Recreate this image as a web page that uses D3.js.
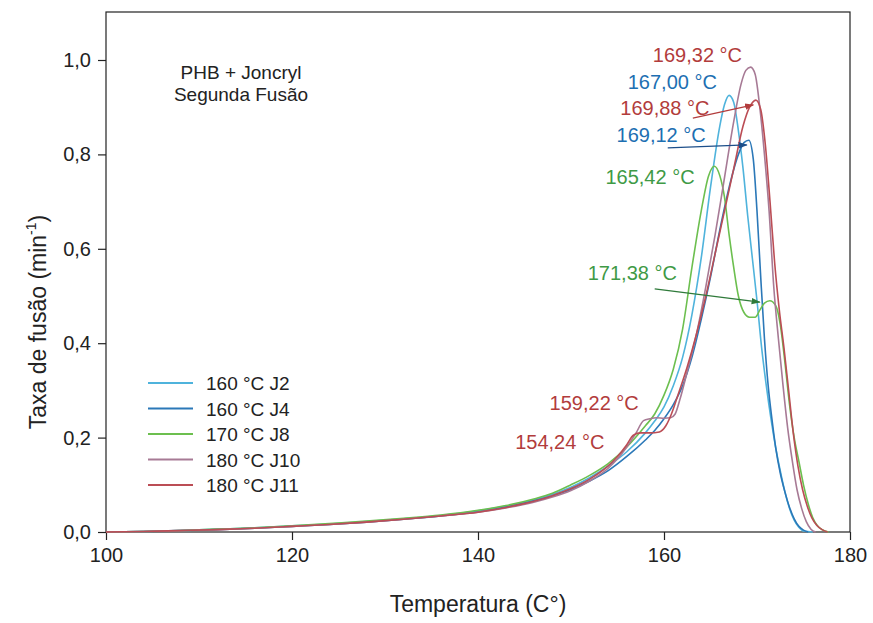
<!DOCTYPE html>
<html><head><meta charset="utf-8">
<script src="https://cdn.jsdelivr.net/npm/d3@7"></script>
<style>body{margin:0;background:#fff}svg{display:block}text{font-family:"Liberation Sans",Arial,sans-serif}</style>
</head><body>
<svg id="c" width="873" height="623"></svg>
<script>
// ---- data ----
const legendLabels = ["160 °C J2","160 °C J4","170 °C J8","180 °C J10","180 °C J11"];
const xTicks = [100,120,140,160,180];
const yTicks = [0,0.2,0.4,0.6,0.8,1.0];

const j2T = [100,104,108,112,116,120,124,128,132,136,140,143,146,148,150,152,154,156,158,159,160,161,162,163,164,165,166,166.5,167,167.5,168,168.5,169,169.5,170,170.5,171,171.5,172,172.5,173,173.5,174,174.5,175,176];
const j2V = [0,0.001,0.003,0.006,0.009,0.013,0.017,0.022,0.028,0.035,0.045,0.055,0.068,0.08,0.095,0.115,0.14,0.17,0.21,0.235,0.265,0.31,0.37,0.46,0.58,0.73,0.86,0.905,0.925,0.91,0.85,0.77,0.67,0.58,0.49,0.39,0.31,0.24,0.18,0.13,0.085,0.05,0.025,0.01,0.002,0];

const j4T = [100,104,108,112,116,120,124,128,132,136,140,143,146,148,150,152,154,156,158,159,160,161,162,163,164,165,166,167,168,168.6,169.12,169.6,170,170.4,170.8,171.2,171.6,172,172.5,173,173.5,174,174.5,175,175.5];
const j4V = [0,0.001,0.003,0.005,0.008,0.012,0.016,0.021,0.027,0.034,0.043,0.053,0.066,0.077,0.09,0.108,0.13,0.16,0.195,0.215,0.24,0.27,0.31,0.37,0.45,0.54,0.64,0.73,0.8,0.825,0.83,0.79,0.68,0.54,0.41,0.31,0.24,0.18,0.125,0.085,0.052,0.028,0.012,0.004,0];

const j8T = [100,104,108,112,116,120,124,128,132,136,140,143,146,148,150,152,154,156,158,159,160,161,162,163,164,164.8,165.42,166,166.5,167,167.5,168,168.6,169.2,169.8,170.3,170.8,171.38,172,172.5,173,173.5,174,174.5,175,175.5,176,176.5,177,177.7];
const j8V = [0,0.001,0.003,0.006,0.009,0.013,0.018,0.023,0.029,0.036,0.046,0.056,0.07,0.082,0.1,0.12,0.145,0.18,0.225,0.25,0.29,0.345,0.43,0.56,0.68,0.755,0.775,0.755,0.71,0.63,0.56,0.5,0.465,0.455,0.455,0.47,0.485,0.49,0.48,0.44,0.36,0.27,0.2,0.15,0.1,0.06,0.03,0.013,0.005,0];

const j10T = [100,104,108,112,116,120,124,128,132,136,140,143,146,148,150,152,154,155,156,157,157.8,158.5,159.22,160,160.7,161.2,161.7,162.5,163.5,164.5,165.5,166.5,167.5,168.3,168.8,169.32,169.8,170.3,170.8,171.3,171.8,172.3,172.8,173.3,173.8,174.3,174.8,175.3,175.8,176.3];
const j10V = [0,0.001,0.003,0.005,0.008,0.012,0.016,0.021,0.027,0.034,0.042,0.051,0.063,0.074,0.088,0.108,0.135,0.155,0.18,0.21,0.236,0.24,0.242,0.241,0.242,0.25,0.28,0.34,0.42,0.52,0.63,0.75,0.87,0.95,0.978,0.985,0.97,0.9,0.8,0.68,0.52,0.41,0.31,0.22,0.15,0.09,0.05,0.022,0.006,0];

const j11T = [100,104,108,112,116,120,124,128,132,136,140,143,146,148,150,152,154,155,156,156.7,157.5,158.5,159.5,160.2,160.8,161.5,162.5,163.5,164.5,165.5,166.5,167.5,168.5,169.2,169.88,170.4,170.9,171.4,171.9,172.4,172.9,173.4,173.9,174.4,174.9,175.4,175.9,176.4,177,177.6];
const j11V = [0,0.001,0.003,0.005,0.008,0.012,0.016,0.021,0.027,0.034,0.042,0.052,0.065,0.077,0.092,0.112,0.14,0.16,0.185,0.205,0.21,0.21,0.212,0.225,0.25,0.29,0.35,0.42,0.5,0.59,0.68,0.77,0.86,0.9,0.915,0.895,0.82,0.7,0.57,0.47,0.39,0.3,0.21,0.14,0.09,0.055,0.03,0.015,0.005,0];

const seriesT = [j2T,j4T,j8T,j10T,j11T];
const seriesV = [j2V,j4V,j8V,j10V,j11V];
const colors = ["#4fb3dc","#2b78b8","#6cbf4f","#a77a95","#bb4d55"];

const annLabels = ["169,32 °C","167,00 °C","169,88 °C","169,12 °C","165,42 °C","171,38 °C","159,22 °C","154,24 °C"];
// label anchor (temperature, rate) for text start / baseline
const annT = [158.8,156.1,155.3,154.9,153.7,151.8,147.7,144.0];
const annV = [0.996,0.939,0.883,0.826,0.737,0.534,0.258,0.176];
const annColors = ["#b23c3c","#1d6fb2","#b23c3c","#1d6fb2","#3f9a46","#3f9a46","#b23c3c","#b23c3c"];
// arrows: [fromT, fromV, toT, toV]
const arrows = [[163.1,0.877,169.6,0.905],[160.4,0.814,168.9,0.82],[159.0,0.515,170.3,0.487]];
const arrowColors = ["#b23c3c","#1d4f8a","#2f7a3a"];

// ---- chart ----
const svg = d3.select("#c");
const L=106,R=850,T=12,B=532;
const x = d3.scaleLinear().domain([100,180]).range([L,R]);
const y = d3.scaleLinear().domain([0,1.0]).range([B,60]);

svg.append("rect").attr("x",L).attr("y",T).attr("width",R-L).attr("height",B-T)
  .attr("fill","none").attr("stroke","#222").attr("stroke-width",1.2);

const fmt = d => d3.format(".1f")(d).replace(".",",");
const xa = svg.append("g").attr("transform",`translate(0,${B})`)
  .call(d3.axisBottom(x).tickValues(xTicks).tickSize(8).tickPadding(8).tickFormat(d3.format("d")));
const ya = svg.append("g").attr("transform",`translate(${L},0)`)
  .call(d3.axisLeft(y).tickValues(yTicks).tickSize(8).tickPadding(7).tickFormat(fmt));
[xa,ya].forEach(g=>{g.select(".domain").remove();
  g.selectAll("line").attr("stroke","#222").attr("stroke-width",1.2);
  g.selectAll("text").attr("font-size",20).attr("fill","#222").attr("font-family","Liberation Sans, Arial");});

svg.append("text").attr("x",(L+R)/2).attr("y",612).attr("text-anchor","middle")
  .attr("font-size",23).attr("fill","#222").text("Temperatura (C°)");
const yt = svg.append("text").attr("transform",`translate(46,322) rotate(-90)`)
  .attr("text-anchor","middle").attr("font-size",23).attr("fill","#222");
yt.append("tspan").text("Taxa de fusão (min");
yt.append("tspan").attr("font-size",14).attr("dy",-10).text("-1");
yt.append("tspan").attr("dy",10).text(")");

const line = d3.line().x(d=>x(d[0])).y(d=>y(d[1])).curve(d3.curveMonotoneX);
seriesT.forEach((ts,i)=>{
  const pts = ts.map((t,k)=>[t,seriesV[i][k]]);
  svg.append("path").attr("d",line(pts)).attr("fill","none")
    .attr("stroke",colors[i]).attr("stroke-width",1.6);
});

// inner title
svg.append("text").attr("x",241).attr("y",79).attr("text-anchor","middle").attr("font-size",19).attr("fill","#222").text("PHB + Joncryl");
svg.append("text").attr("x",241).attr("y",101).attr("text-anchor","middle").attr("font-size",19).attr("fill","#222").text("Segunda Fusão");

// legend
const lg = svg.append("g");
legendLabels.forEach((lab,i)=>{
  const yy = 383 + i*25.5;
  lg.append("line").attr("x1",148).attr("x2",193).attr("y1",yy).attr("y2",yy).attr("stroke",colors[i]).attr("stroke-width",2);
  lg.append("text").attr("x",206).attr("y",yy+7).attr("font-size",19).attr("fill","#222").text(lab);
});

// arrow markers
const defs = svg.append("defs");
arrowColors.forEach((c,i)=>{
  defs.append("marker").attr("id","ah"+i).attr("viewBox","0 0 10 10").attr("refX",9).attr("refY",5)
    .attr("markerWidth",7).attr("markerHeight",7).attr("orient","auto")
    .append("path").attr("d","M0,1.5L10,5L0,8.5Z").attr("fill",c);
});
arrows.forEach((a,i)=>{
  svg.append("line").attr("x1",x(a[0])).attr("y1",y(a[1])).attr("x2",x(a[2])).attr("y2",y(a[3]))
    .attr("stroke",arrowColors[i]).attr("stroke-width",1.3).attr("marker-end",`url(#ah${i})`);
});

// annotations
annLabels.forEach((lab,i)=>{
  svg.append("text").attr("x",x(annT[i])).attr("y",y(annV[i])).attr("font-size",20)
    .attr("fill",annColors[i]).text(lab);
});
</script>
</body></html>
